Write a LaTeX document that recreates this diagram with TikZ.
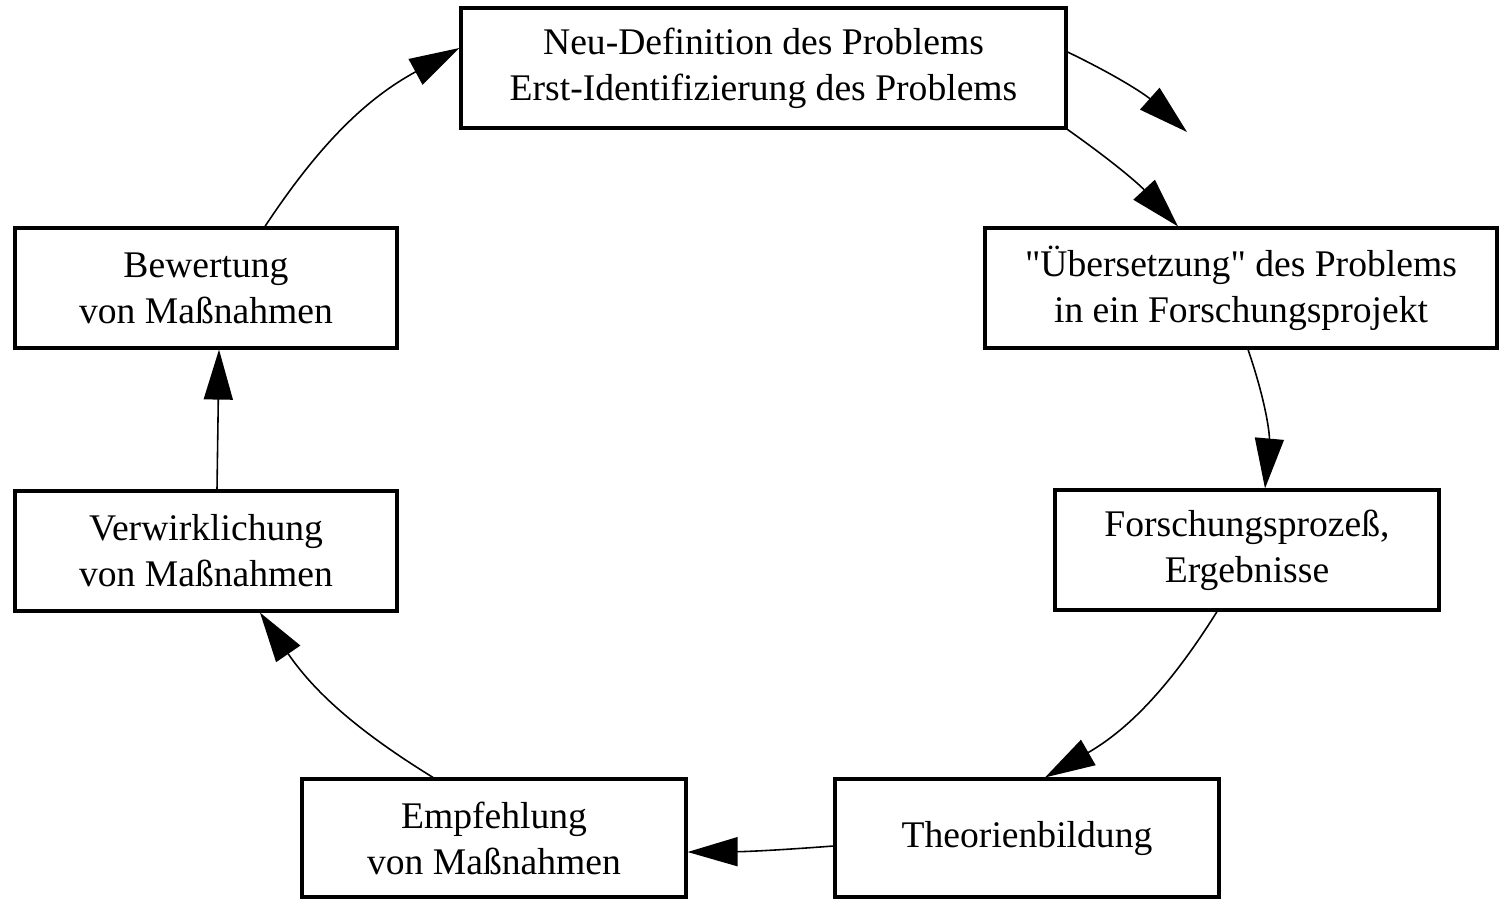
\documentclass[tikz,border=0pt]{standalone}
\usepackage{fontspec}
\setmainfont{Liberation Serif}[Ligatures=TeXOff]
\usepackage{tikz}
\usetikzlibrary{arrows.meta, positioning, calc}

\begin{document}
\begin{tikzpicture}[
  box/.style={draw, line width=0.9pt, rectangle, minimum height=1.2cm, align=center,
    inner sep=0pt, font=\fontsize{10.7}{13.1}\selectfont},
  arr/.style={-{Triangle[length=5mm, width=2.9mm]}, line width=0.45pt}
]
  \useasboundingbox (0,0) rectangle (14.99,-8.98);

  % the boxes of the cycle
  \node[box, minimum width=6.05cm] (top) at (7.635,-0.68) {Neu-Definition des Problems\\Erst-Identifizierung des Problems};
  \node[box, minimum width=5.12cm] (uebers) at (12.41,-2.88) {"Übersetzung" des Problems\\in ein Forschungsprojekt};
  \node[box, minimum width=3.84cm] (forsch) at (12.47,-5.50) {Forschungsprozeß,\\Ergebnisse};
  \node[box, minimum width=3.84cm, minimum height=1.18cm] (theorie) at (10.27,-8.38) {Theorienbildung};
  \node[box, minimum width=3.84cm, minimum height=1.18cm] (empf) at (4.94,-8.38) {Empfehlung\\von Maßnahmen};
  \node[box, minimum width=3.82cm] (verwirk) at (2.06,-5.51) {Verwirklichung\\von Maßnahmen};
  \node[box, minimum width=3.82cm] (bewert) at (2.06,-2.88) {Bewertung\\von Maßnahmen};

  \coordinate (frei) at (11.87,-1.32);

  % arrows
  \draw[arr] ([yshift=1.6mm]top.east) to[bend left=8] (frei);
  \draw[arr] (top.south east) to[bend left=6] ([xshift=-6.3mm]uebers.north);
  \draw[arr] ([xshift=0.7mm]uebers.south) to[bend left=12] ([xshift=1.8mm]forsch.north);
  \draw[arr] ([xshift=-3mm]forsch.south) to[bend left=14] ([xshift=1.8mm]theorie.north);
  \draw[arr] ([yshift=-0.8mm]theorie.west) to[bend left=2] ([yshift=-1.4mm]empf.east);
  \draw[arr] ([xshift=-6.1mm]empf.north) to[bend left=12] ([xshift=5.4mm]verwirk.south);
  \draw[arr] ([xshift=1.1mm]verwirk.north) -- ([xshift=1.3mm]bewert.south);
  \draw[arr] ([xshift=5.9mm]bewert.north) to[bend left=14] ([yshift=2mm]top.west);
\end{tikzpicture}
\end{document}
